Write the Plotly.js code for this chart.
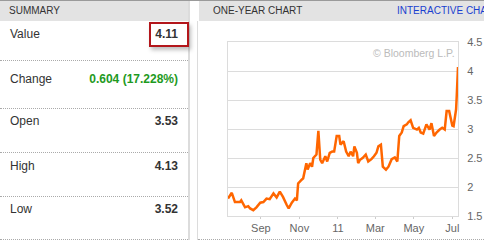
<!DOCTYPE html>
<html>
<head>
<meta charset="utf-8">
<script src="https://cdn.plot.ly/plotly-3.0.1.min.js"></script>
<style>
  html, body { margin:0; padding:0; width:484px; height:245px; overflow:hidden; background:#fff;
    font-family: Arial, "Liberation Sans", sans-serif; }
  .abs { position:absolute; }
  .topline { left:0; top:0; width:484px; height:1px; background:#9a9a9a; }
  .hdr { top:1px; height:20px; background:#e3e3e3; color:#333; font-size:10px; line-height:20px; overflow:hidden; }
  .vborder { top:1px; width:2px; height:239px; background:#dcdcdc; }
  .dots { height:0; border-top:1px dotted #aaa; }
  .lab { left:10px; font-size:12px; color:#333; height:14px; line-height:14px; }
  .val { right:306px; font-size:12px; color:#333; font-weight:bold; height:14px; line-height:14px; text-align:right; }
  #chart { position:absolute; left:198px; top:22px; width:286px; height:215px; }
</style>
</head>
<body>
<div class="abs topline"></div>
<div class="abs hdr" style="left:0;width:188px;"><span style="padding-left:9px;">SUMMARY</span></div>
<div class="abs hdr" style="left:199px;width:285px;"><span style="padding-left:14px;">ONE-YEAR CHART</span><span style="position:absolute;left:198px;color:#1a3fd0;white-space:nowrap;">INTERACTIVE CHA</span></div>
<div class="abs vborder" style="left:188px;"></div>
<div class="abs vborder" style="left:197px;top:21px;height:219px;width:1px;"></div>

<div id="rows"></div>
<div id="chart"></div>
<div class="abs dots" style="left:198px;width:286px;top:239px;"></div>

<script>
// ---- summary table data ----
var rowLabels = ['Value', 'Change', 'Open', 'High', 'Low'];
var rowValues = ['4.11', '0.604 (17.228%)', '3.53', '4.13', '3.52'];

// ---- one-year chart data ----
var dates = ['2010-07-11','2010-07-17','2010-07-22','2010-07-30','2010-08-01','2010-08-07','2010-08-12','2010-08-15','2010-08-20','2010-08-25',
 '2010-08-31','2010-09-05','2010-09-10','2010-09-15','2010-09-21','2010-09-26','2010-10-01','2010-10-06','2010-10-12','2010-10-15',
 '2010-10-20','2010-10-25','2010-10-28','2010-10-30','2010-11-05','2010-11-07','2010-11-12','2010-11-14','2010-11-18','2010-11-21',
 '2010-11-23','2010-11-28','2010-12-01','2010-12-04','2010-12-07','2010-12-12','2010-12-15','2010-12-19','2010-12-23','2010-12-26',
 '2010-12-30','2011-01-03','2011-01-05','2011-01-10','2011-01-14','2011-01-18','2011-01-21','2011-01-25','2011-01-27','2011-01-31',
 '2011-02-02','2011-02-05','2011-02-09','2011-02-14','2011-02-18','2011-02-23','2011-02-27','2011-03-03','2011-03-06','2011-03-10',
 '2011-03-13','2011-03-18','2011-03-22','2011-03-27','2011-04-01','2011-04-05','2011-04-08','2011-04-12','2011-04-15','2011-04-20',
 '2011-04-22','2011-04-26','2011-04-30','2011-05-06','2011-05-09','2011-05-12','2011-05-16','2011-05-21','2011-05-26','2011-05-29',
 '2011-06-02','2011-06-06','2011-06-11','2011-06-15','2011-06-19','2011-06-22','2011-06-26','2011-07-01','2011-07-03','2011-07-07',
 '2011-07-08','2011-07-10'];
var values = [1.80,1.90,1.74,1.74,1.77,1.65,1.67,1.63,1.60,1.65,
 1.73,1.74,1.80,1.79,1.89,1.82,1.92,1.83,1.69,1.63,
 1.73,1.80,1.77,2.06,2.13,2.15,2.41,2.30,2.41,2.35,
 2.50,2.56,2.97,2.47,2.41,2.53,2.44,2.59,2.61,2.61,
 2.88,2.88,2.73,2.79,2.61,2.53,2.61,2.53,2.70,2.59,
 2.41,2.47,2.50,2.56,2.44,2.48,2.53,2.59,2.70,2.73,
 2.35,2.30,2.35,2.48,2.51,2.44,2.88,2.94,3.05,3.08,
 3.11,3.15,3.02,2.99,3.02,2.94,2.92,3.08,2.99,3.10,
 2.88,2.94,2.99,3.02,2.99,3.31,3.31,3.06,3.05,3.34,
 3.57,4.07];
var xTickVals = ['2010-09-01','2010-11-01','2011-01-01','2011-03-01','2011-05-01','2011-07-01'];
var xTickText = ['Sep','Nov','11','Mar','May','Jul'];
var yTickVals = [1.5, 2, 2.5, 3, 3.5, 4, 4.5];
var yTickText = ['1.5','2','2.5','3','3.5','4','4.5'];

// build summary rows
(function(){
  var centers = [33.5, 78.5, 121, 165.5, 209];
  var seps = [60, 108, 152, 196, 239];
  var host = document.getElementById('rows');
  var html = '';
  for (var i = 0; i < rowLabels.length; i++) {
    var t = centers[i] - 7;
    html += '<div class="abs lab" style="top:' + t + 'px;">' + rowLabels[i] + '</div>';
    var color = (i === 1) ? '#1e9a1e' : '#333';
    html += '<div class="abs val" style="top:' + t + 'px;color:' + color + ';white-space:nowrap;">' + rowValues[i] + '</div>';
    html += '<div class="abs dots" style="left:0;width:188px;top:' + seps[i] + 'px;"></div>';
  }
  // highlight box around current value
  html += '<div class="abs" style="left:149px;top:22px;width:36px;height:21px;border:2px solid #b3161b;box-shadow:2px 3px 4px rgba(0,0,0,0.25);"></div>';
  host.innerHTML = html;
})();

var trace = {
  x: dates, y: values, type: 'scatter', mode: 'lines',
  line: { color: '#ff6600', width: 2.5 },
  hoverinfo: 'skip'
};

var layout = {
  width: 286, height: 215,
  margin: { l: 30, r: 26, t: 20, b: 21, pad: 0 },
  paper_bgcolor: 'rgba(0,0,0,0)', plot_bgcolor: '#fff',
  showlegend: false,
  font: { family: 'Arial, "Liberation Sans", sans-serif', size: 11, color: '#666' },
  xaxis: {
    type: 'date', range: ['2010-07-11', '2011-07-10'],
    tickmode: 'array', tickvals: xTickVals, ticktext: xTickText,
    showgrid: false, zeroline: false,
    showline: true, linecolor: '#dcdcdc', linewidth: 1, mirror: true,
    ticks: 'outside', ticklen: 2, tickcolor: '#cccccc',
    tickfont: { size: 11, color: '#666' }
  },
  yaxis: {
    side: 'right', range: [1.5, 4.5],
    tickmode: 'array', tickvals: yTickVals, ticktext: yTickText,
    showgrid: true, gridcolor: '#dcdcdc', gridwidth: 1,
    zeroline: false, showline: true, linecolor: '#dcdcdc', linewidth: 1, mirror: true,
    ticks: 'outside', ticklen: 6, tickcolor: 'rgba(0,0,0,0)',
    tickfont: { size: 11, color: '#666' }
  },
  annotations: [{
    xref: 'paper', yref: 'paper', x: 1, y: 1, xanchor: 'right', yanchor: 'top',
    xshift: -1, yshift: -3,
    text: '\u00A9 Bloomberg L.P.', showarrow: false,
    font: { size: 10.5, color: '#bbbbbb' }
  }]
};

Plotly.newPlot('chart', [trace], layout, { staticPlot: true, displayModeBar: false });
</script>
</body>
</html>
